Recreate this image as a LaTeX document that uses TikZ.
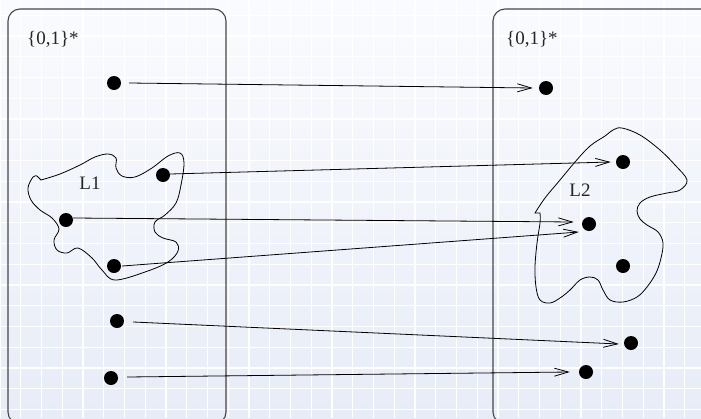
\documentclass[tikz,border=0pt]{standalone}
\usepackage{fontspec}
\setmainfont{Liberation Serif}
\usetikzlibrary{arrows.meta}
\definecolor{bgtop}{RGB}{250,251,254}
\definecolor{bgbottom}{RGB}{231,236,247}
\begin{document}
\begin{tikzpicture}[x=1pt,y=-1pt,
  dot/.style={circle,fill=black,inner sep=0pt,minimum size=14pt},
  setbox/.style={draw=black!72,line width=1.1pt,rounded corners=12pt},
  blob/.style={draw=black,line width=0.8pt},
  arr/.style={draw=black,line width=0.8pt,-{Straight Barb[length=14pt,width=8pt]}},
  lbl/.style={font=\fontsize{19}{21}\selectfont,text=black!85,inner sep=0pt}]
\useasboundingbox (0,0) rectangle (701,418);

% background with a faint grid
\shade[top color=bgtop, bottom color=bgbottom] (0,0) rectangle (701,418);
\foreach \i in {0,...,34}
  \draw[white,line width=1.3pt] (\i*20.75,0) -- (\i*20.75,418);
\foreach \j in {0,...,19}
  \draw[white,line width=1.3pt] (0,15.25+\j*20.75) -- (701,15.25+\j*20.75);

% the two sets
\draw[setbox] (8,9) rectangle (226,424);
\draw[setbox] (493,9) rectangle (720,424);
\node[lbl,anchor=west] (s1) at (27,39) {\{0,1\}*};
\node[lbl,anchor=west] (s2) at (506,39) {\{0,1\}*};

% language L1
\draw[blob] plot[smooth,tension=0.6] coordinates {(41,180) (60,174) (80,165) (95,157) (108,154) (116,158) (116,168) (122,176) (135,177) (152,168) (168,156) (180,153) (184,163) (181,185) (176,203) (165,215) (155,222) (155,232) (163,238) (176,242) (178,251) (168,262) (145,272) (115,280) (102,270) (92,258) (78,248) (67,253) (57,250) (54,240) (59,229) (52,218) (40,210) (31,200) (28,188) (33,177) (37,176)} -- cycle;
\node[lbl] (l1) at (90,183) {L1};

% language L2
\draw[blob] plot[smooth,tension=0.6] coordinates {(535,213) (545,198) (560,180) (575,162) (590,146) (605,136) (613,130) (622,128) (640,135) (660,150) (675,165) (687,180) (680,190) (667,193) (650,197) (640,203) (637,211) (640,219) (647,225) (658,232) (663,243) (661,258) (656,273) (647,287) (637,297) (623,302) (610,300) (603,290) (598,280) (590,277) (580,280) (570,290) (560,298) (550,303) (540,300) (536,287) (535,267) (537,243) (540,223) (540,213)} -- cycle;
\node[lbl] (l2) at (580,190) {L2};

% elements
\node[dot] (a1) at (114,83) {};
\node[dot] (a2) at (163,175) {};
\node[dot] (a3) at (66,220) {};
\node[dot] (a4) at (114,266) {};
\node[dot] (a5) at (117,321) {};
\node[dot] (a6) at (111,378) {};
\node[dot] (b1) at (546,88) {};
\node[dot] (b2) at (623,162) {};
\node[dot] (b3) at (589,224) {};
\node[dot] (b4) at (623,266) {};
\node[dot] (b5) at (631,343) {};
\node[dot] (b6) at (586,372) {};

% the mapping
\draw[arr] ([xshift=8pt]a1.east) -- ([xshift=-6pt]b1.west);
\draw[arr] ([yshift=1pt]a2.east) -- ([xshift=-5pt]b2.west);
\draw[arr] ([yshift=2pt]a3.east) -- ([xshift=-8pt,yshift=2pt]b3.west);
\draw[arr] ([xshift=1pt]a4.east) -- ([xshift=-3pt,yshift=-8pt]b3.west);
\draw[arr] ([xshift=9pt,yshift=-1pt]a5.east) -- ([xshift=-5pt,yshift=-1pt]b5.west);
\draw[arr] ([xshift=9pt,yshift=1pt]a6.east) -- ([xshift=-9pt]b6.west);
\end{tikzpicture}
\end{document}
